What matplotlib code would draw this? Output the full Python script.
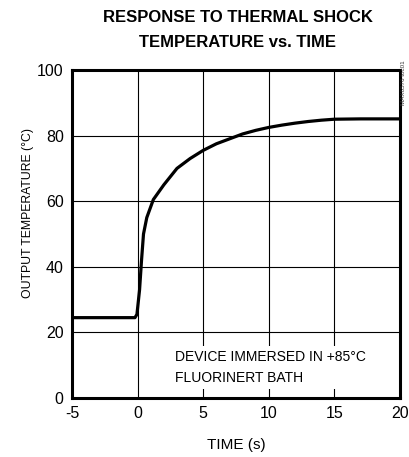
import numpy as np
import matplotlib.pyplot as plt

# Datos
tiempo = [-5, -0.2, -0.05, 0.15, 0.3, 0.45, 0.7, 1.2, 2, 3, 4, 5, 6, 7, 8, 9, 10,
          11, 12, 13, 14, 15, 17, 20]
temperatura = [24.5, 24.5, 25.5, 33, 42, 50, 55, 60.5, 65, 70, 73, 75.5, 77.5, 79,
               80.5, 81.6, 82.5, 83.2, 83.8, 84.3, 84.7, 85, 85.1, 85.1]
x_ticks = [-5, 0, 5, 10, 15, 20]
y_ticks = [0, 20, 40, 60, 80, 100]

plt.rcParams["font.family"] = ["Liberation Sans", "DejaVu Sans"]
plt.rcParams["axes.unicode_minus"] = False

fig = plt.figure(figsize=(4.1, 4.57), dpi=100)
ax = fig.add_axes([0.1756, 0.1291, 0.8, 0.7177])

ax.plot(tiempo, temperatura, color="black", lw=2.3, zorder=4)

ax.set_xlim(-5, 20)
ax.set_ylim(0, 100)
ax.set_xticks(x_ticks)
ax.set_yticks(y_ticks)
ax.grid(True, color="black", lw=0.8)
ax.set_axisbelow(True)
ax.tick_params(length=0, labelsize=11.5, pad=6)
for s in ax.spines.values():
    s.set_linewidth(2.2)

ax.set_xlabel("TIME (s)", fontsize=11, labelpad=12)
ax.set_ylabel("OUTPUT TEMPERATURE (°C)", fontsize=8.8)
ax.yaxis.set_label_coords(-0.115, 0.565)

fig.text(0.58, 0.962, "RESPONSE TO THERMAL SHOCK", ha="center", va="center",
         fontsize=12, fontweight="bold")
fig.text(0.58, 0.906, "TEMPERATURE vs. TIME", ha="center", va="center",
         fontsize=12, fontweight="bold")

ax.text(2.85, 3.9, "DEVICE IMMERSED IN +85°C\nFLUORINERT BATH", fontsize=10,
        ha="left", va="bottom", linespacing=1.65, zorder=3,
        bbox=dict(facecolor="white", edgecolor="none", pad=3))

fig.text(0.985, 0.77, "MAX6576 toc01", rotation=90, fontsize=4.5,
         ha="center", va="bottom", color="#333333")

fig.savefig("out.png", dpi=100)
